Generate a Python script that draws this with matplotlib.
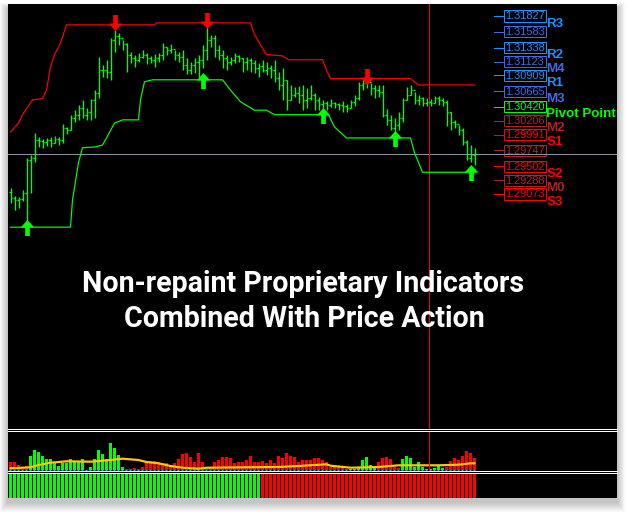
import numpy as np
import matplotlib
matplotlib.use("Agg")
import matplotlib.pyplot as plt
from matplotlib.patches import Rectangle
from matplotlib.path import Path

W, H = 627, 514

# --- candles (EURUSD-like, H1), open = previous close
highs = [1.2917, 1.2904, 1.2903, 1.2913, 1.2963, 1.2968, 1.3002, 1.2996, 1.2993, 1.2994,
         1.2996, 1.2997, 1.2996, 1.3016, 1.3011, 1.3030, 1.3037, 1.3045, 1.3053, 1.3041,
         1.3055, 1.3068, 1.3120, 1.3107, 1.3115, 1.3149, 1.3161, 1.3157, 1.3146, 1.3141,
         1.3127, 1.3123, 1.3126, 1.3130, 1.3126, 1.3121, 1.3124, 1.3126, 1.3141, 1.3135,
         1.3140, 1.3130, 1.3127, 1.3130, 1.3118, 1.3112, 1.3118, 1.3123, 1.3138, 1.3166,
         1.3154, 1.3154, 1.3138, 1.3130, 1.3123, 1.3120, 1.3126, 1.3123, 1.3118, 1.3120,
         1.3118, 1.3115, 1.3110, 1.3115, 1.3112, 1.3107, 1.3115, 1.3096, 1.3103, 1.3084,
         1.3076, 1.3073, 1.3075, 1.3076, 1.3072, 1.3076, 1.3064, 1.3058, 1.3053, 1.3051,
         1.3055, 1.3050, 1.3048, 1.3051, 1.3047, 1.3053, 1.3061, 1.3081, 1.3084, 1.3087,
         1.3079, 1.3076, 1.3076, 1.3076, 1.3039, 1.3030, 1.3025, 1.3034, 1.3056, 1.3073,
         1.3076, 1.3065, 1.3061, 1.3058, 1.3056, 1.3055, 1.3059, 1.3059, 1.3056, 1.3053,
         1.3034, 1.3022, 1.3014, 1.3010, 1.2991, 1.2983, 1.2979]
lows = [1.2893, 1.2883, 1.2886, 1.2896, 1.2864, 1.2909, 1.2957, 1.2980, 1.2979, 1.2982,
        1.2980, 1.2986, 1.2983, 1.2986, 1.3000, 1.3006, 1.3019, 1.3022, 1.3025, 1.3022,
        1.3022, 1.3025, 1.3056, 1.3089, 1.3087, 1.3084, 1.3127, 1.3138, 1.3130, 1.3096,
        1.3110, 1.3104, 1.3112, 1.3118, 1.3109, 1.3110, 1.3104, 1.3112, 1.3115, 1.3123,
        1.3126, 1.3115, 1.3112, 1.3099, 1.3093, 1.3093, 1.3095, 1.3087, 1.3103, 1.3115,
        1.3134, 1.3120, 1.3115, 1.3103, 1.3099, 1.3107, 1.3110, 1.3112, 1.3096, 1.3099,
        1.3096, 1.3095, 1.3089, 1.3096, 1.3092, 1.3087, 1.3081, 1.3068, 1.3053, 1.3037,
        1.3053, 1.3058, 1.3048, 1.3037, 1.3041, 1.3053, 1.3037, 1.3037, 1.3034, 1.3037,
        1.3042, 1.3041, 1.3037, 1.3034, 1.3034, 1.3041, 1.3044, 1.3053, 1.3068, 1.3072,
        1.3061, 1.3056, 1.3058, 1.3027, 1.3014, 1.3006, 1.3002, 1.3006, 1.3019, 1.3053,
        1.3061, 1.3047, 1.3045, 1.3044, 1.3044, 1.3044, 1.3048, 1.3045, 1.3044, 1.3013,
        1.3006, 1.3010, 1.2999, 1.2983, 1.2960, 1.2957, 1.2952]
closes = [1.2901, 1.2898, 1.2900, 1.2909, 1.2960, 1.2963, 1.2991, 1.2989, 1.2988, 1.2991,
          1.2986, 1.2993, 1.2991, 1.3010, 1.3006, 1.3025, 1.3030, 1.3041, 1.3030, 1.3034,
          1.3053, 1.3064, 1.3099, 1.3099, 1.3096, 1.3146, 1.3152, 1.3149, 1.3140, 1.3123,
          1.3118, 1.3115, 1.3120, 1.3123, 1.3118, 1.3115, 1.3118, 1.3123, 1.3134, 1.3130,
          1.3132, 1.3123, 1.3120, 1.3107, 1.3099, 1.3107, 1.3112, 1.3115, 1.3130, 1.3146,
          1.3149, 1.3130, 1.3123, 1.3118, 1.3112, 1.3115, 1.3121, 1.3118, 1.3112, 1.3115,
          1.3110, 1.3103, 1.3106, 1.3099, 1.3103, 1.3099, 1.3087, 1.3076, 1.3084, 1.3053,
          1.3061, 1.3064, 1.3061, 1.3053, 1.3056, 1.3061, 1.3053, 1.3047, 1.3048, 1.3045,
          1.3048, 1.3047, 1.3045, 1.3044, 1.3041, 1.3050, 1.3056, 1.3076, 1.3079, 1.3081,
          1.3072, 1.3068, 1.3065, 1.3030, 1.3022, 1.3010, 1.3014, 1.3025, 1.3053, 1.3061,
          1.3068, 1.3053, 1.3056, 1.3048, 1.3050, 1.3048, 1.3056, 1.3053, 1.3050, 1.3034,
          1.3019, 1.3016, 1.3006, 1.2988, 1.2963, 1.2968, 1.2969]
first_open = 1.2910
bid = 1.2969
marker_bar = 104.7   # red vertical time line

# channel lines (bar, price)
res_x = [0, 2, 3, 5.5, 8, 9, 10, 11, 12.5, 14, 36, 36.5, 60, 61, 62.5, 64, 68, 69.5, 78, 79, 80, 100, 102, 116]
res_y = [1.3003, 1.3017, 1.3030, 1.3053, 1.3055, 1.3068, 1.3104, 1.3123, 1.3141, 1.3169, 1.3169, 1.3172,
         1.3172, 1.3154, 1.3138, 1.3123, 1.3121, 1.3115, 1.3115, 1.3099, 1.3086, 1.3086, 1.3076, 1.3076]
sup_x = [0, 15, 15.5, 17, 18, 21, 23, 24, 26, 28, 32, 32.5, 33.5, 35.5, 53, 55, 57.5, 61, 64, 66,
         79.5, 81, 84, 100, 101, 103, 116]
sup_y = [1.2856, 1.2856, 1.2898, 1.2956, 1.2979, 1.2980, 1.2983, 1.2994, 1.3017, 1.3022, 1.3022, 1.3053,
         1.3081, 1.3084, 1.3084, 1.3068, 1.3050, 1.3037, 1.3037, 1.3030, 1.3030, 1.3011, 1.2994, 1.2994,
         1.2971, 1.2941, 1.2941]

buy_bars = [4, 48, 78, 96, 115]
buy_px = [1.2856, 1.3084, 1.3030, 1.2994, 1.2941]
sell_bars = [26, 49, 89]
sell_px = [1.3169, 1.3172, 1.3086]

# pivot levels
pivot_vals = [1.31827, 1.31583, 1.31338, 1.31123, 1.30909, 1.30665, 1.30420,
              1.30206, 1.29991, 1.29747, 1.29502, 1.29288, 1.29073]
pivot_names = ["R3", "", "R2", "M4", "R1", "M3", "Pivot Point", "M2", "S1", "", "S2", "M0", "S3"]
pivot_cols = ["#1e90ff", "#4169e1", "#1e90ff", "#4169e1", "#1e90ff", "#4169e1", "#00ff00",
              "#b22222", "#ff0000", "#b22222", "#ff0000", "#b22222", "#ff0000"]

# oscillator histogram (+ green, - red) and its signal line
osc = [-8, -8, -5, -3, -4,
       14, 20, 18, 14, 11, 11, 7, 4, 7, 7, 11, 9, 8, 11, 0.5, 3, 11, 20, 16, 11, 27, 22, 15, 3,
       -1, -1, -2, -1, -3, -8, -9, -9, -8, -7, -7, -5, -7, -11, -16, -17, -13, -8, -17, -8,
       -1, -3, -8, -10, -13, -13, -12, -7, -8, -8, -10, -14, -8, -8, -9, -7, -10, -7, -14, -12,
       -17, -14, -13, -8, -10, -10, -10, -12, -12, -10, -8, -3, -3, -3, -2, -1,
       1, 1, 3, 10, 13, 5, 4,
       -8, -12, -13, -11, -3, -2,
       11, 14, 12, 3, 8, 3, 1, 1, 2, 4, 2,
       -3, -9, -12, -10, -14, -19, -17, -12]
sig_x = [0, 5, 7, 10, 14, 20, 25, 28, 32, 34, 37, 40, 43, 47, 49, 67, 72, 79, 80, 85, 92, 97, 107, 112, 115, 116]
sig_y = [1.7, 2.7, 5, 7.3, 8.7, 8.3, 10, 11.3, 10, 8, 6.7, 4, 2.3, 1.3, 2.3, 3, 4, 5.7, 4.3, 2.3, 3, 4.7,
         4.7, 5.3, 6.7, 6.7]

# trend strip: 63 bullish bars then 54 bearish bars
trend = [1] * 63 + [-1] * 54

n = len(closes)
bars = np.arange(n)
opens = [first_open] + closes[:-1]
LIME, RED = "#00ff00", "#ff0000"
PX = 0.72  # one pixel in points

fig = plt.figure(figsize=(W / 100, H / 100), dpi=100)
fig.patch.set_facecolor("white")


def px_box(x0, y0, x1, y1):
    return [x0 / W, 1 - y1 / H, (x1 - x0) / W, (y1 - y0) / H]


# drop shadow + black terminal window (behind the axes)
for k in range(10, 0, -1):
    fig.add_artist(Rectangle(((8 - k * 0.8) / W, 1 - (498 + 4 + k) / H), (609 + 1.6 * k) / W, (494 + 1.5 * k) / H,
                             transform=fig.transFigure, color="black", alpha=0.022, lw=0, zorder=-5))
fig.add_artist(Rectangle((8 / W, 1 - 498 / H), 609 / W, 494 / H, transform=fig.transFigure,
                         color="black", lw=0, zorder=-4))

xl = (-0.625, 151.625)
ppp = (194 - 16) / (pivot_vals[0] - pivot_vals[-1])  # pixels per price unit

ax = fig.add_axes(px_box(8, 4, 617, 428.5))
ax.set_facecolor("black")
ax.set_xlim(*xl)
ax.set_ylim(pivot_vals[0] - (428.5 - 16) / ppp, pivot_vals[0] + (16 - 4) / ppp)

ax.axhline(bid, color="#8893a3", lw=PX)
ax.axvline(marker_bar, color=RED, lw=PX)
ax.plot(res_x, res_y, color=RED, lw=PX * 1.2)
ax.plot(sup_x, sup_y, color=LIME, lw=PX * 1.2)
# OHLC bars: high-low stick, open tick left, close tick right
for i in range(n):
    ax.plot([i, i], [lows[i], highs[i]], color=LIME, lw=PX * 1.3, solid_capstyle="butt")
    ax.plot([i - 0.32, i], [opens[i], opens[i]], color=LIME, lw=PX * 1.3, solid_capstyle="butt")
    ax.plot([i, i + 0.32], [closes[i], closes[i]], color=LIME, lw=PX * 1.3, solid_capstyle="butt")

up = Path([(0, 7), (6.5, 0), (2.2, 0), (2.2, -8), (-2.2, -8), (-2.2, 0), (-6.5, 0), (0, 7)], closed=True)
down = Path([(0, -7), (6.5, 0), (2.2, 0), (2.2, 8), (-2.2, 8), (-2.2, 0), (-6.5, 0), (0, -7)], closed=True)
ax.plot(buy_bars, buy_px, ls="none", marker=up, ms=17 * PX, color=LIME, mew=0)
ax.plot(sell_bars, np.array(sell_px) + 1.5 / ppp, ls="none", marker=down, ms=17 * PX, color=RED, mew=0)

# pivot boxes on the right
bx0, bx1 = (504 - 10.5) / 4, (545.5 - 10.5) / 4
for v, name, c in zip(pivot_vals, pivot_names, pivot_cols):
    ax.plot([(494 - 10.5) / 4, bx0], [v, v], color=c, lw=PX)
    ax.add_patch(Rectangle((bx0, v - 5.5 / ppp), bx1 - bx0, 11 / ppp, fill=False, ec=c, lw=PX))
    ax.text(bx0 + 0.25, v - 0.4 / ppp, f"{v:.5f}", color=c, fontsize=7.9, family="Liberation Sans",
            va="center", ha="left")
    if name:
        ax.annotate(name, (bx1, v), xytext=(0.5, -7.5 * PX), textcoords="offset points",
                    color=c, fontsize=9.6, fontweight="bold", family="Liberation Sans",
                    va="center", ha="left")

# oscillator panel
ax2 = fig.add_axes(px_box(8, 430.5, 617, 471))
ax2.set_facecolor("black")
ax2.set_xlim(*xl)
ax2.set_ylim(-1, 39.5)
osc_a = np.array(osc)
ax2.bar(bars, np.abs(osc_a), width=0.75, color=np.where(osc_a > 0, LIME, RED), lw=0)
ax2.plot(sig_x, sig_y, color="#ffc800", lw=2.2 * PX)
ax2.plot([-0.4, n - 0.6], [0.3, 0.3], color="#00c8e8", lw=PX, dashes=(2, 2))
ax2.axvline(marker_bar, color=RED, lw=PX)

# trend strip
ax3 = fig.add_axes(px_box(8, 473, 617, 498))
ax3.set_facecolor("black")
ax3.set_xlim(*xl)
ax3.set_ylim(0, 1.04)
tr = np.array(trend)
ax3.bar(bars, np.ones(n), width=0.75, color=np.where(tr > 0, LIME, RED), lw=0, align="center")

for a, sides in ((ax, ["bottom"]), (ax2, ["top", "bottom"]), (ax3, ["top"])):
    a.set_xticks([])
    a.set_yticks([])
    for s, sp in a.spines.items():
        if s in sides:
            sp.set_color("white")
            sp.set_linewidth(PX)
        else:
            sp.set_visible(False)

# headline
fam = ["Liberation Sans Narrow", "Roboto", "DejaVu Sans"]
t1 = fig.text(303.5 / W, 1 - 292 / H, "Non-repaint Proprietary Indicators", color="white",
              fontsize=20, fontweight="bold", family=fam, ha="center", va="baseline")
t2 = fig.text(304 / W, 1 - 327 / H, "Combined With Price Action", color="white",
              fontsize=20, fontweight="bold", family=fam, ha="center", va="baseline")
fig.canvas.draw()
r = fig.canvas.get_renderer()
w1 = t1.get_window_extent(r).width
size = 20 * 441 / w1
t1.set_fontsize(size)
t2.set_fontsize(size)

fig.savefig("out.png", dpi=100, facecolor="white")
